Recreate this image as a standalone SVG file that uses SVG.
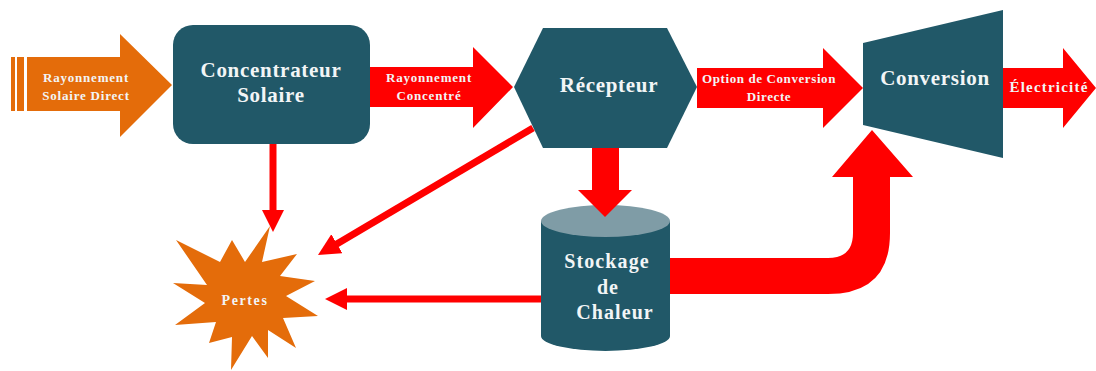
<svg xmlns="http://www.w3.org/2000/svg" width="1096" height="371" viewBox="0 0 1096 371">
<style>
.node{fill:#215868}
.t{font-family:"Liberation Serif","Times New Roman",serif;font-weight:bold;fill:#f2f5f6;text-anchor:middle}
.big{font-size:21px;letter-spacing:0.7px}
.sm{font-size:13px;letter-spacing:0.8px}
.red{fill:#ff0000}
.ln{stroke:#ff0000;stroke-width:7;fill:none}
</style>
<defs>
<marker id="ah" markerUnits="userSpaceOnUse" markerWidth="24" markerHeight="24" viewBox="0 0 24 24" refX="12" refY="11" orient="auto">
<path d="M0,0 L22,11 L0,22 Z" fill="#ff0000"/>
</marker>
</defs>
<rect width="1096" height="371" fill="#ffffff"/>

<g id="concentrateur">
<rect class="node" x="173" y="25" width="197" height="119" rx="20"/>
<text class="t big" x="271" y="77">Concentrateur</text>
<text class="t big" x="271" y="102">Solaire</text>
</g>

<g id="recepteur">
<polygon class="node" points="514,87 543,28 667,28 697,87 667,148 543,148"/>
<text class="t big" x="609" y="92">Récepteur</text>
</g>

<g id="conversion">
<polygon class="node" points="863,43 1003,10 1003,158 863,125"/>
<text class="t big" x="935" y="85">Conversion</text>
</g>

<g id="stockage">
<path class="node" d="M541,221 L541,336 A64.5,15 0 0 0 670,336 L670,221 Z"/>
<ellipse cx="605.5" cy="221" rx="64.5" ry="16" fill="#7f9ca6"/>
<text class="t" style="font-size:20px;letter-spacing:1.1px" x="607" y="268">Stockage</text>
<text class="t" style="font-size:20px;letter-spacing:1.1px" x="608" y="294">de</text>
<text class="t" style="font-size:20px;letter-spacing:1.1px" x="615" y="319">Chaleur</text>
</g>

<g id="pertes">
<polygon fill="#e46c0a" points="270,226 262,262 297,254 280,276 315,281 286,296 318,316 283,318 296,348 268,330 268,358 252,336 231,370 232,337 209,343 216,322 175,325 205,303 173,283 207,285 176,240 220,262 232,240 245,262"/>
<text class="t" style="font-size:14px;letter-spacing:1.6px" x="245" y="305">Pertes</text>
</g>

<g id="connectors">
<g id="solaire-direct">
<rect x="11" y="57" width="4" height="54" fill="#e46c0a"/>
<rect x="17" y="57" width="7" height="54" fill="#e46c0a"/>
<polygon fill="#e46c0a" points="27,57 120,57 120,34 172,85 120,137 120,111 27,111"/>
<text class="t sm" x="86" y="82">Rayonnement</text>
<text class="t sm" x="86" y="100">Solaire Direct</text>
</g>
<g id="concentre">
<polygon class="red" points="370,67 473,67 473,47 513,87 473,128 473,107 370,107"/>
<text class="t sm" x="429" y="82">Rayonnement</text>
<text class="t sm" x="429" y="100">Concentré</text>
</g>
<g id="directe">
<polygon class="red" points="697,68 823,68 823,48 863,88 823,128 823,108 697,108"/>
<text class="t sm" style="letter-spacing:0.6px" x="769" y="83">Option de Conversion</text>
<text class="t sm" style="letter-spacing:0.6px" x="769" y="101">Directe</text>
</g>
<g id="electricite">
<polygon class="red" points="1003,68 1063,68 1063,48 1096,88 1063,128 1063,108 1003,108"/>
<text class="t" style="font-size:15px;letter-spacing:1.2px" x="1049" y="92">Électricité</text>
</g>
<polygon class="red" points="592,148 619,148 619,190 632,190 605,217 578,190 592,190"/>
<path class="red" d="M670,258 L828,258 Q853,258 853,233 L853,177 L832,177 L872,130 L913,177 L890,177 L890,233 Q890,294 828,294 L670,294 Z"/>
<line class="ln" x1="273" y1="144" x2="273" y2="222" marker-end="url(#ah)"/>
<line class="ln" x1="533" y1="128" x2="326.6" y2="249.9" marker-end="url(#ah)"/>
<line class="ln" x1="541" y1="299" x2="335" y2="299" marker-end="url(#ah)"/>
</g>
</svg>
